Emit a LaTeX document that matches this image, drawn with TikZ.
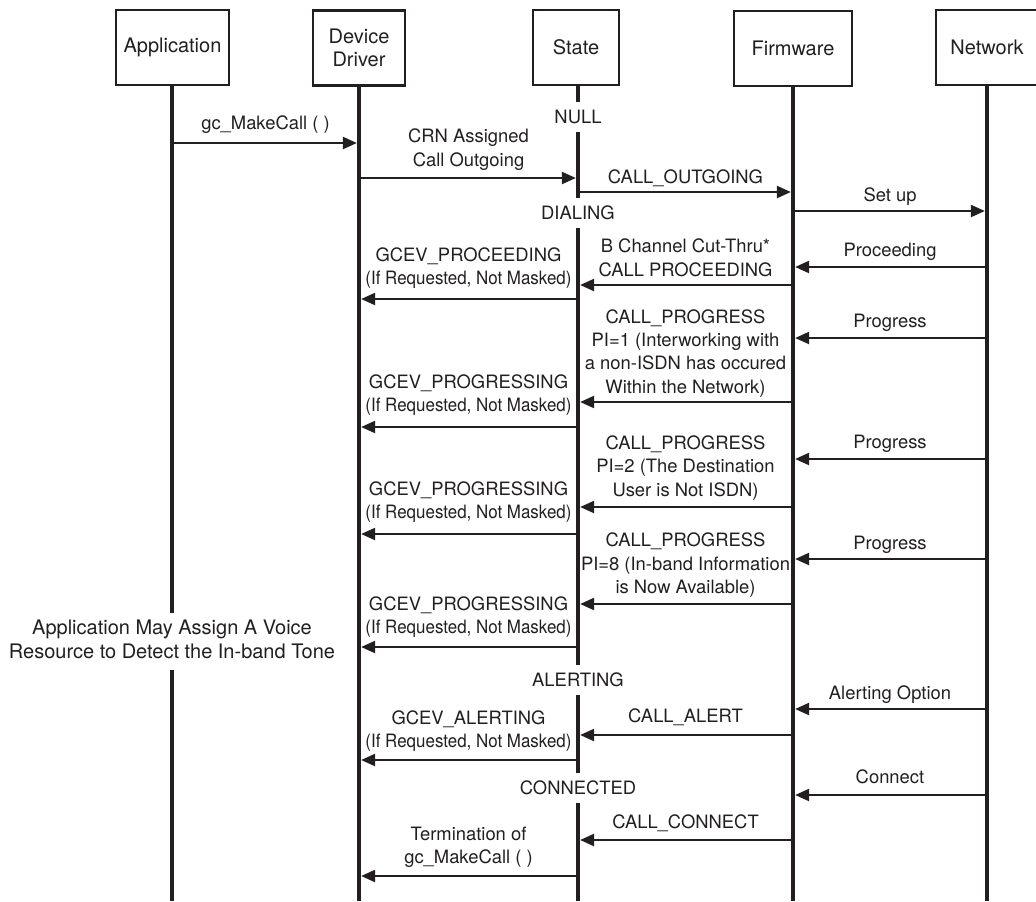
\documentclass[tikz,border=0pt]{standalone}
\usepackage{fontspec}
\setmainfont{TeX Gyre Heros}
\newfontfamily\narrowfont[FakeStretch=0.92]{TeX Gyre Heros}
\usetikzlibrary{arrows.meta,calc}
\definecolor{ink}{RGB}{35,31,32}
\newcommand\lblfont{\fontsize{13.8pt}{17.6pt}\selectfont}
\newcommand\boxfont{\fontsize{15pt}{17.6pt}\selectfont}
\newcommand\notefont{\fontsize{15pt}{18.6pt}\selectfont}
% line break that keeps every line strut-high
\newcommand\nl{\strut\\\strut}
% message: name, from lifeline, to lifeline, arrow y, label y, text
\newcommand\seqmsg[6]{%
  \draw[msg] (#2 |- 0,#4) -- (#3 |- 0,#4);
  \node[lbl] (#1) at ($(#2 |- 0,#5)!0.5!(#3 |- 0,#5)$) {#6};
}
\begin{document}
\begin{tikzpicture}[x=0.75pt,y=-0.75pt,color=ink,
  actor/.style={draw, line width=1.8pt, minimum height=56.25pt, align=center,
    inner sep=0pt, font=\boxfont},
  life/.style={line width=3.2pt},
  msg/.style={line width=1.6pt, -{Triangle[length=10.5pt,width=9pt]}, shorten >=1.6pt},
  lbl/.style={align=center, inner sep=0pt, font=\lblfont,
    execute at begin node=\strut, execute at end node=\strut},
  stlbl/.style={fill=white, inner xsep=2pt, inner ysep=6pt, font=\lblfont},
  note/.style={lbl, font=\notefont, fill=white, inner xsep=0pt, inner ysep=3pt}]
\fill[white] (0,0) rectangle (1036,901);
\useasboundingbox (0,0) rectangle (1036,901);

% participants
\node[actor, minimum width=84.75pt] (bApp) at (172.5,47.5) {Application};
\node[actor, minimum width=69pt] (bDD) at (359,48) {Device\\Driver};
\node[actor, minimum width=64.5pt] (bSt) at (576,47.5) {State};
\node[actor, minimum width=88.2pt] (bFw) at (793,48.5) {Firmware};
\node[actor, minimum width=76.5pt] (bNw) at (987,47.5) {Network};

% lifelines
\coordinate (app) at (172,85);
\coordinate (dd) at (359,86);
\coordinate (st) at (578,86);
\coordinate (fw) at (793,87);
\coordinate (nw) at (987,85);
\foreach \l in {app,dd,st,fw,nw}
  \draw[life] (\l) -- (\l |- 0,901);

% messages
\seqmsg{m1}{app}{dd}{143}{125}{gc\_MakeCall ( )}
\seqmsg{m2}{dd}{st}{178}{150}{CRN Assigned\nl Call Outgoing}
\seqmsg{m3}{st}{fw}{192}{179}{CALL\_OUTGOING}
\seqmsg{m4}{fw}{nw}{211}{197}{Set up}
\seqmsg{m5}{nw}{fw}{267}{252}{Proceeding}
\seqmsg{m6}{fw}{st}{285}{260}{B Channel Cut-Thru*\nl CALL PROCEEDING}
\seqmsg{m7}{st}{dd}{299}{268.5}{GCEV\_PROCEEDING\nl{\narrowfont (If Requested, Not Masked)}}
\seqmsg{m8}{nw}{fw}{338}{323}{Progress}
\seqmsg{m9}{fw}{st}{402}{353.5}{CALL\_PROGRESS\nl PI=1 (Interworking with\nl a non-ISDN has occured\nl Within the Network)}
\seqmsg{m10}{st}{dd}{427}{395.5}{GCEV\_PROGRESSING\nl{\narrowfont (If Requested, Not Masked)}}
\seqmsg{m11}{nw}{fw}{459}{444}{Progress}
\seqmsg{m12}{fw}{st}{507}{468}{CALL\_PROGRESS\nl PI=2 (The Destination\nl User is Not ISDN)}
\seqmsg{m13}{st}{dd}{534}{502.5}{GCEV\_PROGRESSING\nl{\narrowfont (If Requested, Not Masked)}}
\seqmsg{m14}{nw}{fw}{559}{545}{Progress}
\seqmsg{m15}{fw}{st}{604}{565.5}{CALL\_PROGRESS\nl PI=8 (In-band Information\nl is Now Available)}
\seqmsg{m16}{st}{dd}{647}{617.5}{GCEV\_PROGRESSING\nl{\narrowfont (If Requested, Not Masked)}}
\seqmsg{m17}{nw}{fw}{709}{695}{Alerting Option}
\seqmsg{m18}{fw}{st}{735}{718}{CALL\_ALERT}
\seqmsg{m19}{st}{dd}{760}{731.5}{GCEV\_ALERTING\nl{\narrowfont (If Requested, Not Masked)}}
\seqmsg{m20}{nw}{fw}{795}{779}{Connect}
\seqmsg{m21}{fw}{st}{840}{824}{CALL\_CONNECT}
\seqmsg{m22}{st}{dd}{876}{847.5}{Termination of\nl gc\_MakeCall ( )}

% call states on the State lifeline
\node[stlbl] (sNull) at (st |- 0,117) {NULL};
\node[stlbl] (sDial) at (st |- 0,213) {DIALING};
\node[stlbl] (sAlert) at (st |- 0,680) {ALERTING};
\node[stlbl] (sConn) at (st |- 0,788) {CONNECTED};

% note on the Application lifeline
\node[note] (appNote) at (app |- 0,641.5) {Application May Assign A Voice\nl Resource to Detect the In-band Tone};
\end{tikzpicture}
\end{document}
